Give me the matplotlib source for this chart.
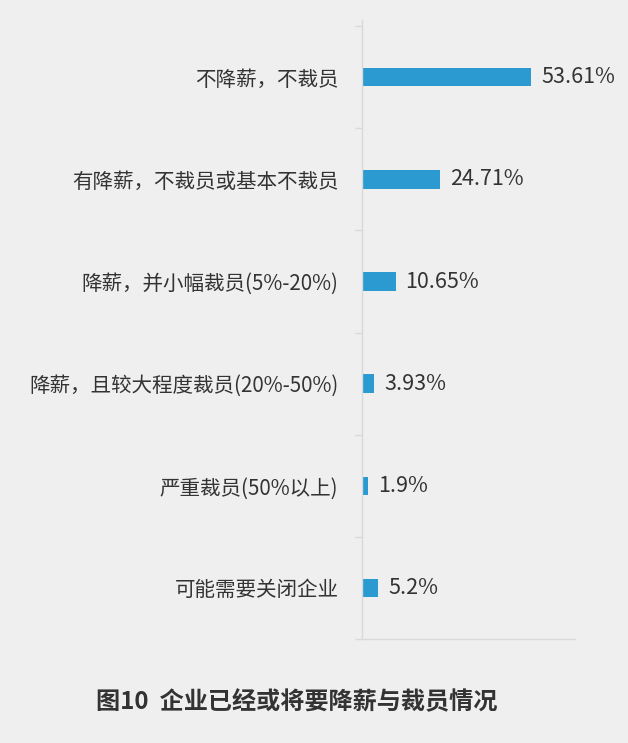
import matplotlib
matplotlib.use('Agg')
import matplotlib.pyplot as plt

plt.rcParams['font.family'] = ['Noto Sans CJK SC', 'DejaVu Sans']

# data
categories = ['不降薪，不裁员', '有降薪，不裁员或基本不裁员', '降薪，并小幅裁员(5%-20%)',
              '降薪，且较大程度裁员(20%-50%)', '严重裁员(50%以上)', '可能需要关闭企业']
values = [53.61, 24.71, 10.65, 3.93, 1.9, 5.2]
value_labels = ['53.61%', '24.71%', '10.65%', '3.93%', '1.9%', '5.2%']
title = '图10  企业已经或将要降薪与裁员情况'

bg = '#efefef'
bar_color = '#2a9ad1'
text_color = '#333333'
axis_color = '#d9d9d9'

fig = plt.figure(figsize=(6.28, 7.43), dpi=100, facecolor=bg)
ax = fig.add_axes([0.5764, 0.140, 0.3392, 0.833], facecolor=bg)

pos = list(range(len(categories)))
ax.barh(pos, values, height=0.18, color=bar_color)
for p, v, lab in zip(pos, values, value_labels):
    ax.text(v + 3.2, p, lab, va='center', ha='left', fontsize=15.5,
            color=text_color)

ax.set_xlim(0, 67.6)
ax.set_ylim(5.49, -0.56)
ax.set_xticks([])
ax.set_yticks(pos)
ax.set_yticklabels(categories, fontsize=14.8, color=text_color)
ax.set_yticks([p + 0.5 for p in pos] + [-0.5], minor=True)
ax.tick_params(axis='y', which='major', length=0, pad=17)
ax.tick_params(axis='y', which='minor', length=5, color=axis_color, width=1)

for s in ['top', 'right']:
    ax.spines[s].set_visible(False)
for s in ['left', 'bottom']:
    ax.spines[s].set_color(axis_color)
    ax.spines[s].set_linewidth(1)

fig.text(0.473, 0.055, title, ha='center', va='center', fontsize=17.4,
         fontweight='bold', color=text_color)

fig.savefig('out.png', dpi=100, facecolor=bg)
